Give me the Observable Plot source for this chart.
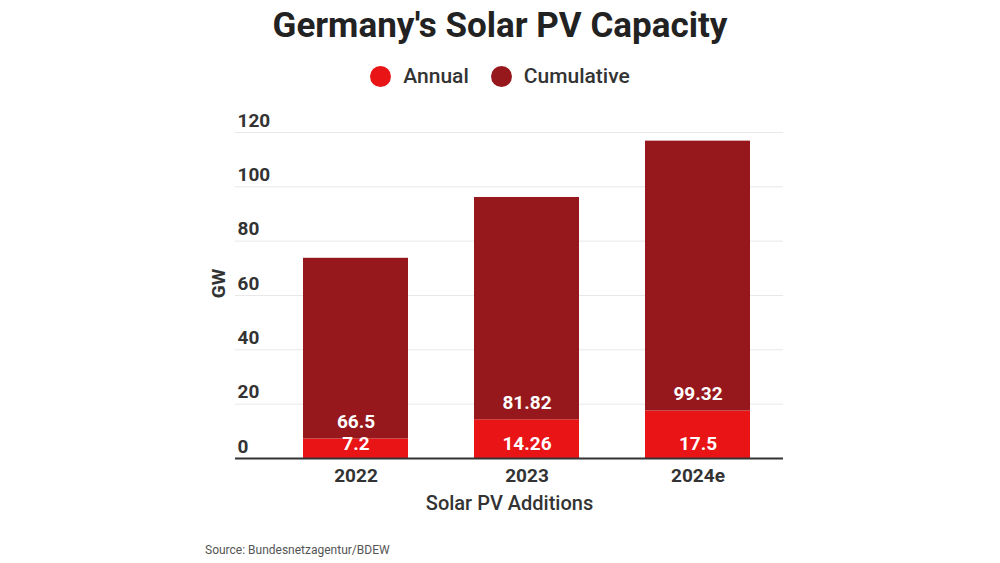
<!DOCTYPE html>
<html>
<head>
<meta charset="utf-8">
<script src="https://cdn.jsdelivr.net/npm/d3@7"></script>
<script src="https://cdn.jsdelivr.net/npm/@observablehq/plot@0.6"></script>
<style>
  body { margin: 0; background: #fff; font-family: Roboto, sans-serif; width: 1000px; }
  #title { height: 52px; line-height: 52px; text-align: center; font-size: 35px; font-weight: 700; color: #222; }
  #legend { height: 48px; display: flex; justify-content: center; align-items: center; font-size: 21px; font-weight: 500; color: #333; }
  #legend .sw { width: 21px; height: 21px; border-radius: 50%; display: inline-block; margin-right: 12px; }
  #legend .item { display: flex; align-items: center; margin: 0 11px; }
  #chart svg { display: block; }
  #source { padding-left: 205px; font-size: 12px; color: #555; line-height: 40px; }
</style>
</head>
<body>
<div id="title">Germany's Solar PV Capacity</div>
<div id="legend"></div>
<div id="chart"></div>
<div id="source">Source: Bundesnetzagentur/BDEW</div>
<script>
const years = ["2022", "2023", "2024e"]
const annual = [7.2, 14.26, 17.5]
const cumulative = [66.5, 81.82, 99.32]
const series = ["Annual", "Cumulative"]
const colors = ["#e81416", "#96181c"]
const yTicks = [0, 20, 40, 60, 80, 100, 120]

// long table for the stack, annual first so it sits at the bottom
let rows = []
years.forEach((y, i) => {
  rows.push({year: y, series: "Annual", value: annual[i]})
  rows.push({year: y, series: "Cumulative", value: cumulative[i]})
})
let annualRows = rows.filter(d => d.series == "Annual")
let cumRows = years.map((y, i) => ({year: y, base: annual[i], value: cumulative[i]}))

d3.select('#legend').selectAll('.item')
  .data(series)
  .join('div')
  .attr('class', 'item')
  .html((d, i) => `<span class="sw" style="background:${colors[i]}"></span>${d}`)

const chart = Plot.plot({
  width: 1000,
  height: 430,
  marginLeft: 235,
  marginRight: 217,
  marginTop: 32,
  marginBottom: 72,
  style: {fontFamily: "Roboto, sans-serif", fontSize: "19px"},
  x: {domain: years, range: [269.5, 782.5], paddingInner: 0.386, paddingOuter: 0.193},
  y: {domain: [0, 120], axis: null},
  color: {domain: series, range: colors},
  marks: [
    Plot.ruleY(yTicks, {stroke: "#e8e8e8", strokeWidth: 1}),
    Plot.text(yTicks, {y: d => d, frameAnchor: "left", textAnchor: "start", dx: 2, dy: -12,
      fill: "#333", fontWeight: 700, fontSize: 19}),
    Plot.barY(rows, {x: "year", y: "value", fill: "series"}),
    Plot.ruleY([0], {stroke: "#333", strokeWidth: 2}),
    Plot.text(annualRows, {x: "year", y: 0, text: d => String(d.value), dy: -15,
      fill: "white", fontWeight: 700, fontSize: 19}),
    Plot.text(cumRows, {x: "year", y: "base", text: d => String(d.value), dy: -17,
      fill: "white", fontWeight: 700, fontSize: 19}),
    Plot.axisX({tickSize: 0, tickPadding: 10, label: null, fill: "#333", fontWeight: 700, fontSize: 19}),
    Plot.text(["Solar PV Additions"], {frameAnchor: "bottom", dy: 51, fill: "#333", fontWeight: 500, fontSize: 20}),
    Plot.text(["GW"], {frameAnchor: "left", textAnchor: "middle", rotate: -90, dx: -17, dy: -12,
      fill: "#333", fontWeight: 700, fontSize: 19})
  ]
})

d3.select('#chart').append(() => chart)
</script>
</body>
</html>
